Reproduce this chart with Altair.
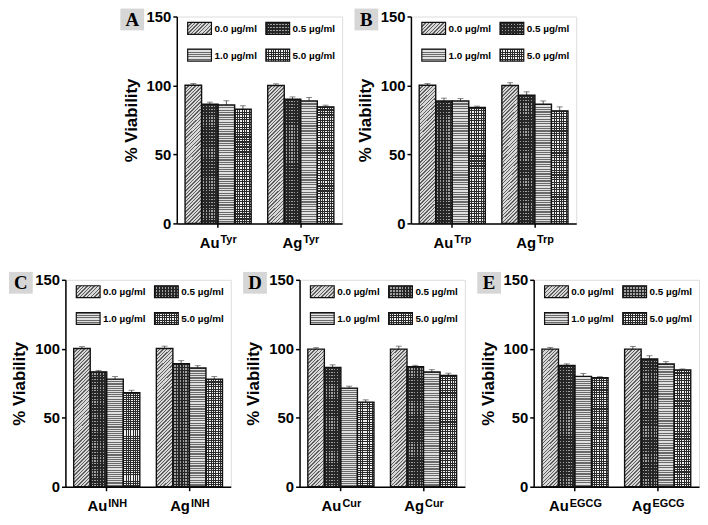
import altair as alt
import pandas as pd

groups = ["Au", "Ag"]
concs = ["0.0 µg/ml", "0.5 µg/ml", "1.0 µg/ml", "5.0 µg/ml"]
panel_letters = ["A", "B", "C", "D", "E"]
ligands = ["Tyr", "Trp", "INH", "Cur", "EGCG"]

# % viability: [Au values, Ag values], each in the order of concs
via_tyr = [[100.2, 86.4, 85.9, 82.8], [100.0, 90.0, 88.8, 84.5]]
err_tyr = [[1.2, 1.5, 3.0, 2.5], [1.2, 1.7, 2.5, 1.2]]
via_trp = [[100.2, 88.8, 88.8, 84.0], [100.0, 93.0, 86.4, 81.6]]
err_trp = [[1.2, 2.0, 1.7, 1.0], [2.0, 2.4, 2.4, 2.9]]
via_inh = [[100.2, 83.3, 78.0, 68.2], [100.2, 89.2, 86.1, 78.0]]
err_inh = [[1.4, 1.0, 1.9, 1.7], [1.7, 2.2, 1.7, 1.9]]
via_cur = [[99.8, 86.5, 71.5, 61.3], [99.8, 87.0, 83.2, 80.6]]
err_cur = [[1.0, 1.9, 1.4, 1.7], [2.1, 1.0, 1.7, 1.7]]
via_egcg = [[99.8, 87.9, 80.0, 79.1], [99.8, 92.6, 89.0, 84.7]]
err_egcg = [[1.2, 1.2, 2.1, 0.7], [1.9, 2.4, 1.7, 0.7]]

all_via = [via_tyr, via_trp, via_inh, via_cur, via_egcg]
all_err = [err_tyr, err_trp, err_inh, err_cur, err_egcg]

W, H = 167, 209
SANS = "Liberation Sans"
SERIF = "Liberation Serif"
CLEAR = "rgba(255,255,255,0)"


def stripes(n, line, bg, x1, y1, x2, y2, duty=0.5):
    stops = []
    for i in range(n):
        s, m, e = i / n, (i + duty) / n, (i + 1) / n
        stops += [(s, line), (m, line), (m, bg), (e, bg)]
    return alt.LinearGradient(
        gradient="linear",
        stops=[alt.GradientStop(offset=round(o, 5), color=c) for o, c in stops],
        x1=x1, y1=y1, x2=x2, y2=y2,
    )


# textures for bars (list of layers per concentration)
bar_fills = {
    concs[0]: [stripes(44, "#606060", "#d8d8d8", 0, 0, 0.131, 1.103, 0.4)],
    concs[1]: [stripes(41, "#262626", "#a0a0a0", 0, 0, 0, 1, 0.55),
               stripes(6, "#262626", CLEAR, 0, 0, 1, 0, 0.55)],
    concs[2]: [stripes(50, "#6a6a6a", "#e0e0e0", 0, 0, 0, 1, 0.5)],
    concs[3]: [stripes(46, "#2a2a2a", "#f0f0f0", 0, 0, 0, 1, 0.45),
               stripes(7, "#2a2a2a", CLEAR, 0, 0, 1, 0, 0.42)],
}
# textures for legend swatches (24 x 12 px)
sw_fills = {
    concs[0]: [stripes(10, "#606060", "#d8d8d8", 0, 0, 1.2, 0.6, 0.4)],
    concs[1]: [stripes(4, "#262626", "#a0a0a0", 0, 0, 0, 1, 0.55),
               stripes(8, "#262626", CLEAR, 0, 0, 1, 0, 0.55)],
    concs[2]: [stripes(5, "#6a6a6a", "#e0e0e0", 0, 0, 0, 1, 0.5)],
    concs[3]: [stripes(5, "#2a2a2a", "#f0f0f0", 0, 0, 0, 1, 0.45),
               stripes(10, "#2a2a2a", CLEAR, 0, 0, 1, 0, 0.42)],
}
# legend swatch placement (col, row)
leg_pos = {concs[0]: (0, 0), concs[1]: (1, 0), concs[2]: (0, 1), concs[3]: (1, 1)}

char_w = {"A": .722, "u": .611, "g": .611, "T": .611, "y": .556, "r": .389,
          "p": .611, "I": .278, "N": .722, "H": .722, "C": .722, "E": .667,
          "G": .778}


def tw(s, size):
    return sum(char_w.get(c, .6) for c in s) * size


xscale = alt.Scale(domain=groups, paddingInner=0.2, paddingOuter=0.1)
yscale = alt.Scale(domain=[0, 150], nice=False)
xoscale = alt.Scale(domain=concs, paddingInner=0, paddingOuter=0)

x_enc = alt.X("group:N", scale=xscale, sort=groups,
              axis=alt.Axis(labels=False, title=None, ticks=True, tickSize=4,
                            tickWidth=1.5, tickColor="black", domainColor="black",
                            domainWidth=1.5, grid=False))
y_enc = alt.Y("value:Q", scale=yscale,
              axis=alt.Axis(values=[0, 50, 100, 150], title="% Viability",
                            titleFont=SANS, titleFontSize=17, titleFontWeight="bold",
                            titleColor="black", titlePadding=6,
                            labelFont=SANS, labelFontSize=15, labelFontWeight="bold",
                            labelColor="black", labelPadding=2, tickSize=4,
                            tickWidth=1.5, tickColor="black", domainColor="black",
                            domainWidth=1.5, grid=False))
xo_enc = alt.XOffset("conc:N", scale=xoscale, sort=concs)


def panel(letter, lig, via, err):
    rows = []
    for gi, g in enumerate(groups):
        for ci, c in enumerate(concs):
            rows.append({"group": g, "conc": c, "value": via[gi][ci],
                         "err": err[gi][ci], "hi": via[gi][ci] + err[gi][ci]})
    df = pd.DataFrame(rows)
    base = alt.Chart(df)
    layers = []
    # error bars (upper half) drawn first so bars cover the lower part
    layers.append(base.mark_rule(color="#555555", strokeWidth=1).encode(
        x=x_enc, xOffset=xo_enc, y=y_enc, y2="hi:Q"))
    layers.append(base.mark_tick(color="#555555", size=6, thickness=1).encode(
        x=x_enc, xOffset=xo_enc, y=alt.Y("hi:Q", scale=yscale)))
    for c in concs:
        fills = bar_fills[c]
        for k, f in enumerate(fills):
            layers.append(base.transform_filter(alt.datum.conc == c).mark_bar(
                fill=f, stroke="#111111" if k == len(fills) - 1 else CLEAR,
                strokeWidth=1.4).encode(x=x_enc, xOffset=xo_enc, y=y_enc))
    # legend
    for c in concs:
        col, row = leg_pos[c]
        x0 = 11 + col * 79
        y0 = 6 + row * 27
        ldf = pd.DataFrame({"conc": [c]})
        fills = sw_fills[c]
        for k, f in enumerate(fills):
            layers.append(alt.Chart(ldf).mark_rect(
                fill=f, stroke="#111111" if k == len(fills) - 1 else CLEAR,
                strokeWidth=1.2).encode(
                x=alt.value(x0), x2=alt.value(x0 + 24),
                y=alt.value(y0), y2=alt.value(y0 + 12)))
        layers.append(alt.Chart(ldf).mark_text(
            align="left", baseline="middle", font=SANS, fontSize=10,
            fontWeight="bold", color="black").encode(
            x=alt.value(x0 + 27), y=alt.value(y0 + 6.5), text="conc:N"))
    # x labels with superscripts
    gdf = pd.DataFrame({"group": groups, "sup": [lig] * len(groups)})
    split = (tw("Au", 15) - tw(lig, 11)) / 2
    layers.append(alt.Chart(gdf).mark_text(
        align="right", baseline="alphabetic", font=SANS, fontSize=15,
        fontWeight="bold", color="black", dx=split).encode(
        x=alt.X("group:N", scale=xscale, sort=groups), y=alt.value(H + 25),
        text="group:N"))
    layers.append(alt.Chart(gdf).mark_text(
        align="left", baseline="alphabetic", font=SANS, fontSize=11,
        fontWeight="bold", color="black", dx=split + 1).encode(
        x=alt.X("group:N", scale=xscale, sort=groups), y=alt.value(H + 20),
        text="sup:N"))
    # panel letter box
    pdf = pd.DataFrame({"letter": [letter]})
    layers.append(alt.Chart(pdf).mark_rect(fill="#d6d6d6").encode(
        x=alt.value(-57), x2=alt.value(-33), y=alt.value(-8), y2=alt.value(14)))
    layers.append(alt.Chart(pdf).mark_text(
        align="center", baseline="middle", font=SERIF, fontSize=19,
        fontWeight="bold", color="black").encode(
        x=alt.value(-45), y=alt.value(3.5), text="letter:N"))
    return alt.layer(*layers).properties(width=W, height=H)


charts = [panel(panel_letters[i], ligands[i], all_via[i], all_err[i]) for i in range(5)]
spacer = alt.Chart(pd.DataFrame({"s": [0]})).mark_point(opacity=0, size=1).encode(
    x=alt.value(0), y=alt.value(0)
).properties(width=43, height=H, view=alt.ViewBackground(stroke="transparent"))
top = alt.hconcat(spacer, charts[0], charts[1], spacing=69.5, bounds="flush")
bottom = alt.hconcat(charts[2], charts[3], charts[4], spacing=69.5, bounds="flush")
chart = alt.vconcat(top, bottom, spacing=19).properties(
    padding={"left": 0, "top": -3, "right": 0, "bottom": 0}
).configure_view(stroke="black", strokeWidth=1.5).configure(background="white")

chart.save("out.html", embed_options={"renderer": "svg", "actions": False})
